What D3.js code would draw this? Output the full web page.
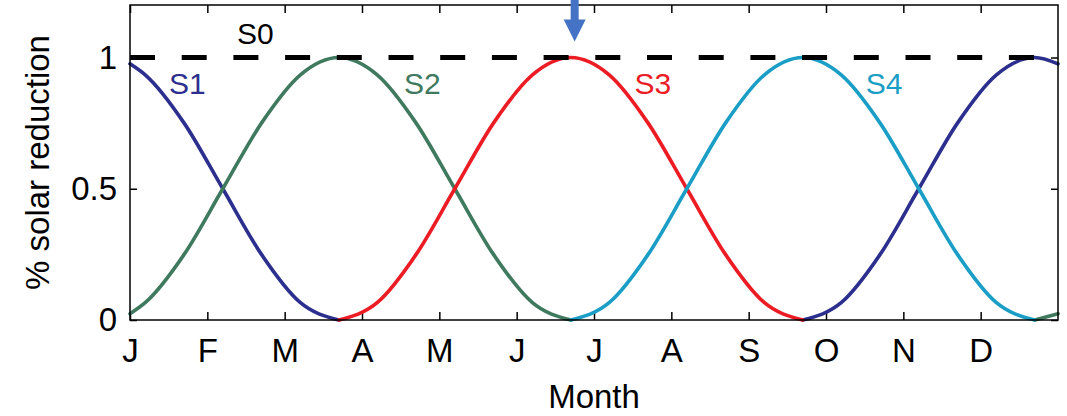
<!DOCTYPE html>
<html>
<head>
<meta charset="utf-8">
<script src="https://cdn.jsdelivr.net/npm/d3@7"></script>
<style>
  html, body { margin: 0; padding: 0; background: #fff; }
  svg { display: block; }
  text { font-family: "Liberation Sans", Arial, Helvetica, sans-serif; fill: #000; }
</style>
</head>
<body>
<svg id="chart" width="1067" height="416"></svg>
<script>
// Month grid (fractional months from 1 Jan) shared by the four seasonal series
const months = [0, 0.2, 0.7, 1.2, 1.7, 2.2, 2.7, 3.2, 3.7, 4.2, 4.7, 5.2, 5.7,
                6.2, 6.7, 7.2, 7.7, 8.2, 8.7, 9.2, 9.7, 10.2, 10.7, 11.2, 11.7, 12];

// Fraction of solar reduction applied; null = scenario inactive in that month
const s1Values = [0.976, 0.933, 0.75, 0.5, 0.25, 0.067, 0, null, null, null, null, null, null,
                  null, null, null, null, null, 0, 0.067, 0.25, 0.5, 0.75, 0.933, 1, 0.976];
const s2Values = [0.024, 0.067, 0.25, 0.5, 0.75, 0.933, 1, 0.933, 0.75, 0.5, 0.25, 0.067, 0,
                  null, null, null, null, null, null, null, null, null, null, null, 0, 0.024];
const s3Values = [null, null, null, null, null, null, 0, 0.067, 0.25, 0.5, 0.75, 0.933, 1,
                  0.933, 0.75, 0.5, 0.25, 0.067, 0, null, null, null, null, null, null, null];
const s4Values = [null, null, null, null, null, null, null, null, null, null, null, null, 0,
                  0.067, 0.25, 0.5, 0.75, 0.933, 1, 0.933, 0.75, 0.5, 0.25, 0.067, 0, null];

// Constant year-round reduction (S0)
const s0Months = [0, 12];
const s0Values = [1, 1];

// Axis ticks
const monthTicks = [0, 1, 2, 3, 4, 5, 6, 7, 8, 9, 10, 11];
const monthLabels = ["J", "F", "M", "A", "M", "J", "J", "A", "S", "O", "N", "D"];
const yTicks = [0, 0.5, 1];
const yTickLabels = ["0", "0.5", "1"];

// Month marked by the arrow
const arrowMonth = 5.75;

// ---- layout / styling ----
const W = 1067, H = 416;
const plot = { left: 130, right: 1058, top: 5, bottom: 320 };
const FONT = 33;

const series = [
  { name: "S1", values: s1Values, color: "#2c2f8e", label: { m: 0.74, v: 0.86 } },
  { name: "S2", values: s2Values, color: "#3f7a5e", label: { m: 3.78, v: 0.86 } },
  { name: "S3", values: s3Values, color: "#ec1c24", label: { m: 6.76, v: 0.86 } },
  { name: "S4", values: s4Values, color: "#1b9ec6", label: { m: 9.75, v: 0.86 } }
];
const s0Label = { m: 1.62, v: 1.05 };

const svg = d3.select("#chart");

const x = d3.scaleLinear().domain([0, 12]).range([plot.left, plot.right]);
const y = d3.scaleLinear().domain([0, 1.2]).range([plot.bottom, plot.top]);

// Axes with inward ticks on all four sides
const gBottom = svg.append("g").attr("transform", `translate(0,${plot.bottom})`)
  .call(d3.axisBottom(x).tickValues(monthTicks)
        .tickFormat((d, i) => monthLabels[i])
        .tickSizeInner(-8).tickSizeOuter(0).tickPadding(19));
const gTop = svg.append("g").attr("transform", `translate(0,${plot.top})`)
  .call(d3.axisTop(x).tickValues(monthTicks).tickFormat("")
        .tickSizeInner(-8).tickSizeOuter(0));
const gLeft = svg.append("g").attr("transform", `translate(${plot.left},0)`)
  .call(d3.axisLeft(y).tickValues(yTicks)
        .tickFormat((d, i) => yTickLabels[i])
        .tickSizeInner(-7).tickSizeOuter(0).tickPadding(13));
const gRight = svg.append("g").attr("transform", `translate(${plot.right},0)`)
  .call(d3.axisRight(y).tickValues(yTicks).tickFormat("")
        .tickSizeInner(-7).tickSizeOuter(0));

[gBottom, gTop, gLeft, gRight].forEach(g => {
  g.select(".domain").remove();
  g.selectAll(".tick line").attr("stroke", "#000").attr("stroke-width", 1.5);
  g.selectAll(".tick text").style("font-size", FONT + "px")
    .style("font-family", '"Liberation Sans", Arial, sans-serif').attr("fill", "#000");
});

// Seasonal curves
const line = d3.line()
  .defined(d => d[1] != null)
  .x(d => x(d[0]))
  .y(d => y(d[1]))
  .curve(d3.curveMonotoneX);

svg.append("g").selectAll("path")
  .data(series)
  .join("path")
  .attr("d", s => line(months.map((m, i) => [m, s.values[i]])))
  .attr("fill", "none")
  .attr("stroke", s => s.color)
  .attr("stroke-width", 3.6)
  .attr("stroke-linejoin", "round")
  .attr("stroke-linecap", "round");

// Constant S0 level (dashed)
svg.append("path")
  .attr("d", d3.line().x(d => x(d[0])).y(d => y(d[1]))(s0Months.map((m, i) => [m, s0Values[i]])))
  .attr("fill", "none")
  .attr("stroke", "#000")
  .attr("stroke-width", 5)
  .attr("stroke-dasharray", "25 26.7");

// Plot frame
svg.append("rect")
  .attr("x", plot.left).attr("y", plot.top)
  .attr("width", plot.right - plot.left).attr("height", plot.bottom - plot.top)
  .attr("fill", "none").attr("stroke", "#000").attr("stroke-width", 1.5);

// Series labels
svg.append("text")
  .attr("x", x(s0Label.m)).attr("y", y(s0Label.v))
  .attr("text-anchor", "middle").style("font-size", "30px")
  .text("S0");
svg.append("g").selectAll("text")
  .data(series)
  .join("text")
  .attr("x", s => x(s.label.m)).attr("y", s => y(s.label.v))
  .attr("text-anchor", "middle").style("font-size", "30px")
  .style("fill", s => s.color)
  .text(s => s.name);

// Axis titles
svg.append("text")
  .attr("x", (plot.left + plot.right) / 2).attr("y", 408)
  .attr("text-anchor", "middle").style("font-size", FONT + "px")
  .text("Month");
svg.append("text")
  .attr("transform", `translate(49,${(plot.top + plot.bottom) / 2}) rotate(-90)`)
  .attr("text-anchor", "middle").style("font-size", FONT + "px")
  .text("% solar reduction");

// Downward arrow marking the S3 peak
const ax = x(arrowMonth);
const tipY = y(1) - 16;
const shaftW = 8, headW = 22, headH = 22;
svg.append("path")
  .attr("d", `M${ax - shaftW / 2},0 L${ax + shaftW / 2},0 L${ax + shaftW / 2},${tipY - headH}
              L${ax + headW / 2},${tipY - headH} L${ax},${tipY} L${ax - headW / 2},${tipY - headH}
              L${ax - shaftW / 2},${tipY - headH} Z`)
  .attr("fill", "#4472c4");
</script>
</body>
</html>
